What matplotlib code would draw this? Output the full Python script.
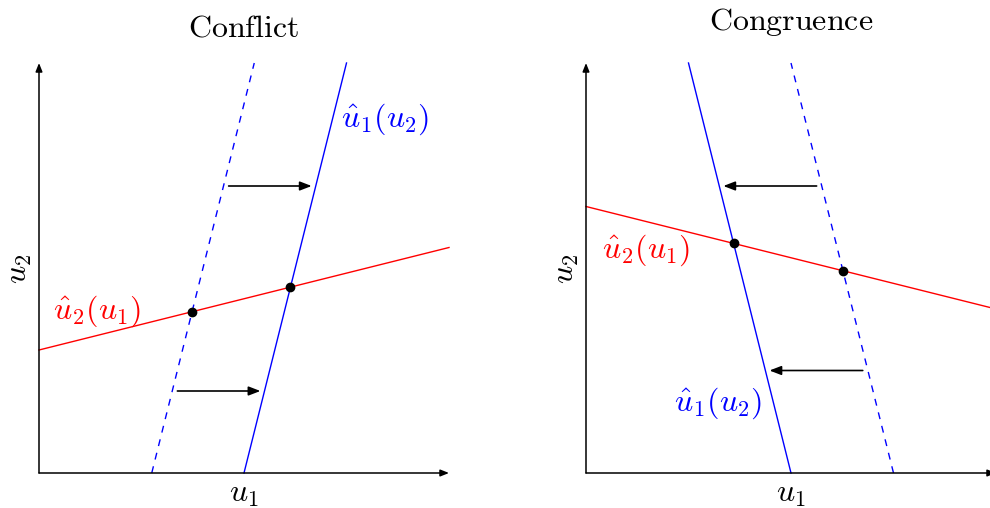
import numpy as np
import matplotlib
matplotlib.use("Agg")
import matplotlib.pyplot as plt

plt.rcParams["mathtext.fontset"] = "cm"

# ---- data (payoff units, axes run from 0 to 4) ----
axis_len = 4.0

# Conflict: u2's best response rises with u1, u1's best response shifts right
conflict_br2_u1 = [0.0, 4.0]
conflict_br2_u2 = [1.2, 2.2]
conflict_br1_u1 = [2.0, 3.0]
conflict_br1_u2 = [0.0, 4.0]
conflict_br1_old_u1 = [1.1, 2.1]
conflict_br1_old_u2 = [0.0, 4.0]
conflict_arrow_u2 = [0.8, 2.8]

# Congruence: u2's best response falls with u1, u1's best response shifts left
congr_br2_u1 = [0.0, 4.0]
congr_br2_u2 = [2.6, 1.6]
congr_br1_u1 = [2.0, 1.0]
congr_br1_u2 = [0.0, 4.0]
congr_br1_old_u1 = [3.0, 2.0]
congr_br1_old_u2 = [0.0, 4.0]
congr_arrow_u2 = [1.0, 2.8]

BLUE = (0, 0, 1)
RED = (1, 0, 0)
FS = 23

W, H = 990, 508
SCALE = 102.5  # pixels per unit


def intersect(ax_, ay_, bx_, by_):
    """Intersection of line through (ax_, ay_) with line through (bx_, by_)."""
    p1 = np.array([ax_[0], ay_[0]]); d1 = np.array([ax_[1] - ax_[0], ay_[1] - ay_[0]])
    p2 = np.array([bx_[0], by_[0]]); d2 = np.array([bx_[1] - bx_[0], by_[1] - by_[0]])
    A = np.column_stack([d1, -d2])
    t = np.linalg.solve(A, p2 - p1)
    return p1 + t[0] * d1


def x_on(line_x, line_y, y):
    return np.interp(y, line_y, line_x) if line_y[0] < line_y[1] else np.interp(y, line_y[::-1], line_x[::-1])


def make_axes(fig, px0, px1, ox, oy):
    ax = fig.add_axes([px0 / W, 0, (px1 - px0) / W, 1])
    ax.set_xlim((px0 - ox) / SCALE, (px1 - ox) / SCALE)
    ax.set_ylim((oy - H) / SCALE, oy / SCALE)
    ax.axis("off")
    return ax


def draw_axes_arrows(ax):
    kw = dict(arrowstyle="-|>,head_length=0.5,head_width=0.2", color="black",
              lw=1.1, shrinkA=0, shrinkB=0)
    ax.annotate("", xy=(axis_len, 0), xytext=(0, 0), arrowprops=kw, annotation_clip=False)
    ax.annotate("", xy=(0, axis_len), xytext=(0, 0), arrowprops=kw, annotation_clip=False)


def shift_arrow(ax, y, x_from, x_to):
    ax.annotate("", xy=(x_to, y), xytext=(x_from, y),
                arrowprops=dict(arrowstyle="-|>,head_length=0.7,head_width=0.27",
                                color="black", lw=1.2, shrinkA=0, shrinkB=0))


fig = plt.figure(figsize=(W / 100, H / 100), dpi=100)

# ---------------- Conflict ----------------
ax1 = make_axes(fig, 0, 500, 39, 473)
draw_axes_arrows(ax1)
ax1.plot(conflict_br2_u1, conflict_br2_u2, color=RED, lw=1.0)
ax1.plot(conflict_br1_u1, conflict_br1_u2, color=BLUE, lw=1.0)
ax1.plot(conflict_br1_old_u1, conflict_br1_old_u2, color=BLUE, lw=1.0, dashes=(5, 5))
for lx, ly in [(conflict_br1_u1, conflict_br1_u2), (conflict_br1_old_u1, conflict_br1_old_u2)]:
    px, py = intersect(conflict_br2_u1, conflict_br2_u2, lx, ly)
    ax1.plot(px, py, "o", color="black", ms=6, zorder=5)
for y in conflict_arrow_u2:
    x0 = x_on(conflict_br1_old_u1, conflict_br1_old_u2, y) + 0.05
    x1 = x_on(conflict_br1_u1, conflict_br1_u2, y) - 0.04
    shift_arrow(ax1, y, x0, x1)
ax1.text(3.38, 3.45, r"$\hat{u}_1(u_2)$", color=BLUE, fontsize=FS, ha="center", va="center")
ax1.text(0.57, 1.58, r"$\hat{u}_2(u_1)$", color=RED, fontsize=FS, ha="center", va="center")
ax1.text(2.0, -0.2, r"$u_1$", fontsize=FS, ha="center", va="center")
ax1.text(-0.2, 1.99, r"$u_2$", fontsize=FS, ha="center", va="center", rotation=90)
ax1.text(2.0, 4.34, r"$\mathrm{Conflict}$", fontsize=FS, ha="center", va="center")

# ---------------- Congruence ----------------
ax2 = make_axes(fig, 500, 990, 586, 473)
draw_axes_arrows(ax2)
ax2.plot(congr_br2_u1, congr_br2_u2, color=RED, lw=1.0)
ax2.plot(congr_br1_u1, congr_br1_u2, color=BLUE, lw=1.0)
ax2.plot(congr_br1_old_u1, congr_br1_old_u2, color=BLUE, lw=1.0, dashes=(5, 5))
for lx, ly in [(congr_br1_u1, congr_br1_u2), (congr_br1_old_u1, congr_br1_old_u2)]:
    px, py = intersect(congr_br2_u1, congr_br2_u2, lx, ly)
    ax2.plot(px, py, "o", color="black", ms=6, zorder=5)
for y in congr_arrow_u2:
    x0 = x_on(congr_br1_old_u1, congr_br1_old_u2, y) - 0.05
    x1 = x_on(congr_br1_u1, congr_br1_u2, y) + 0.04
    shift_arrow(ax2, y, x0, x1)
ax2.text(1.29, 0.68, r"$\hat{u}_1(u_2)$", color=BLUE, fontsize=FS, ha="center", va="center")
ax2.text(0.59, 2.17, r"$\hat{u}_2(u_1)$", color=RED, fontsize=FS, ha="center", va="center")
ax2.text(2.0, -0.2, r"$u_1$", fontsize=FS, ha="center", va="center")
ax2.text(-0.2, 1.99, r"$u_2$", fontsize=FS, ha="center", va="center", rotation=90)
ax2.text(2.0, 4.40, r"$\mathrm{Congruence}$", fontsize=FS, ha="center", va="center")

fig.savefig("out.png", dpi=100)
